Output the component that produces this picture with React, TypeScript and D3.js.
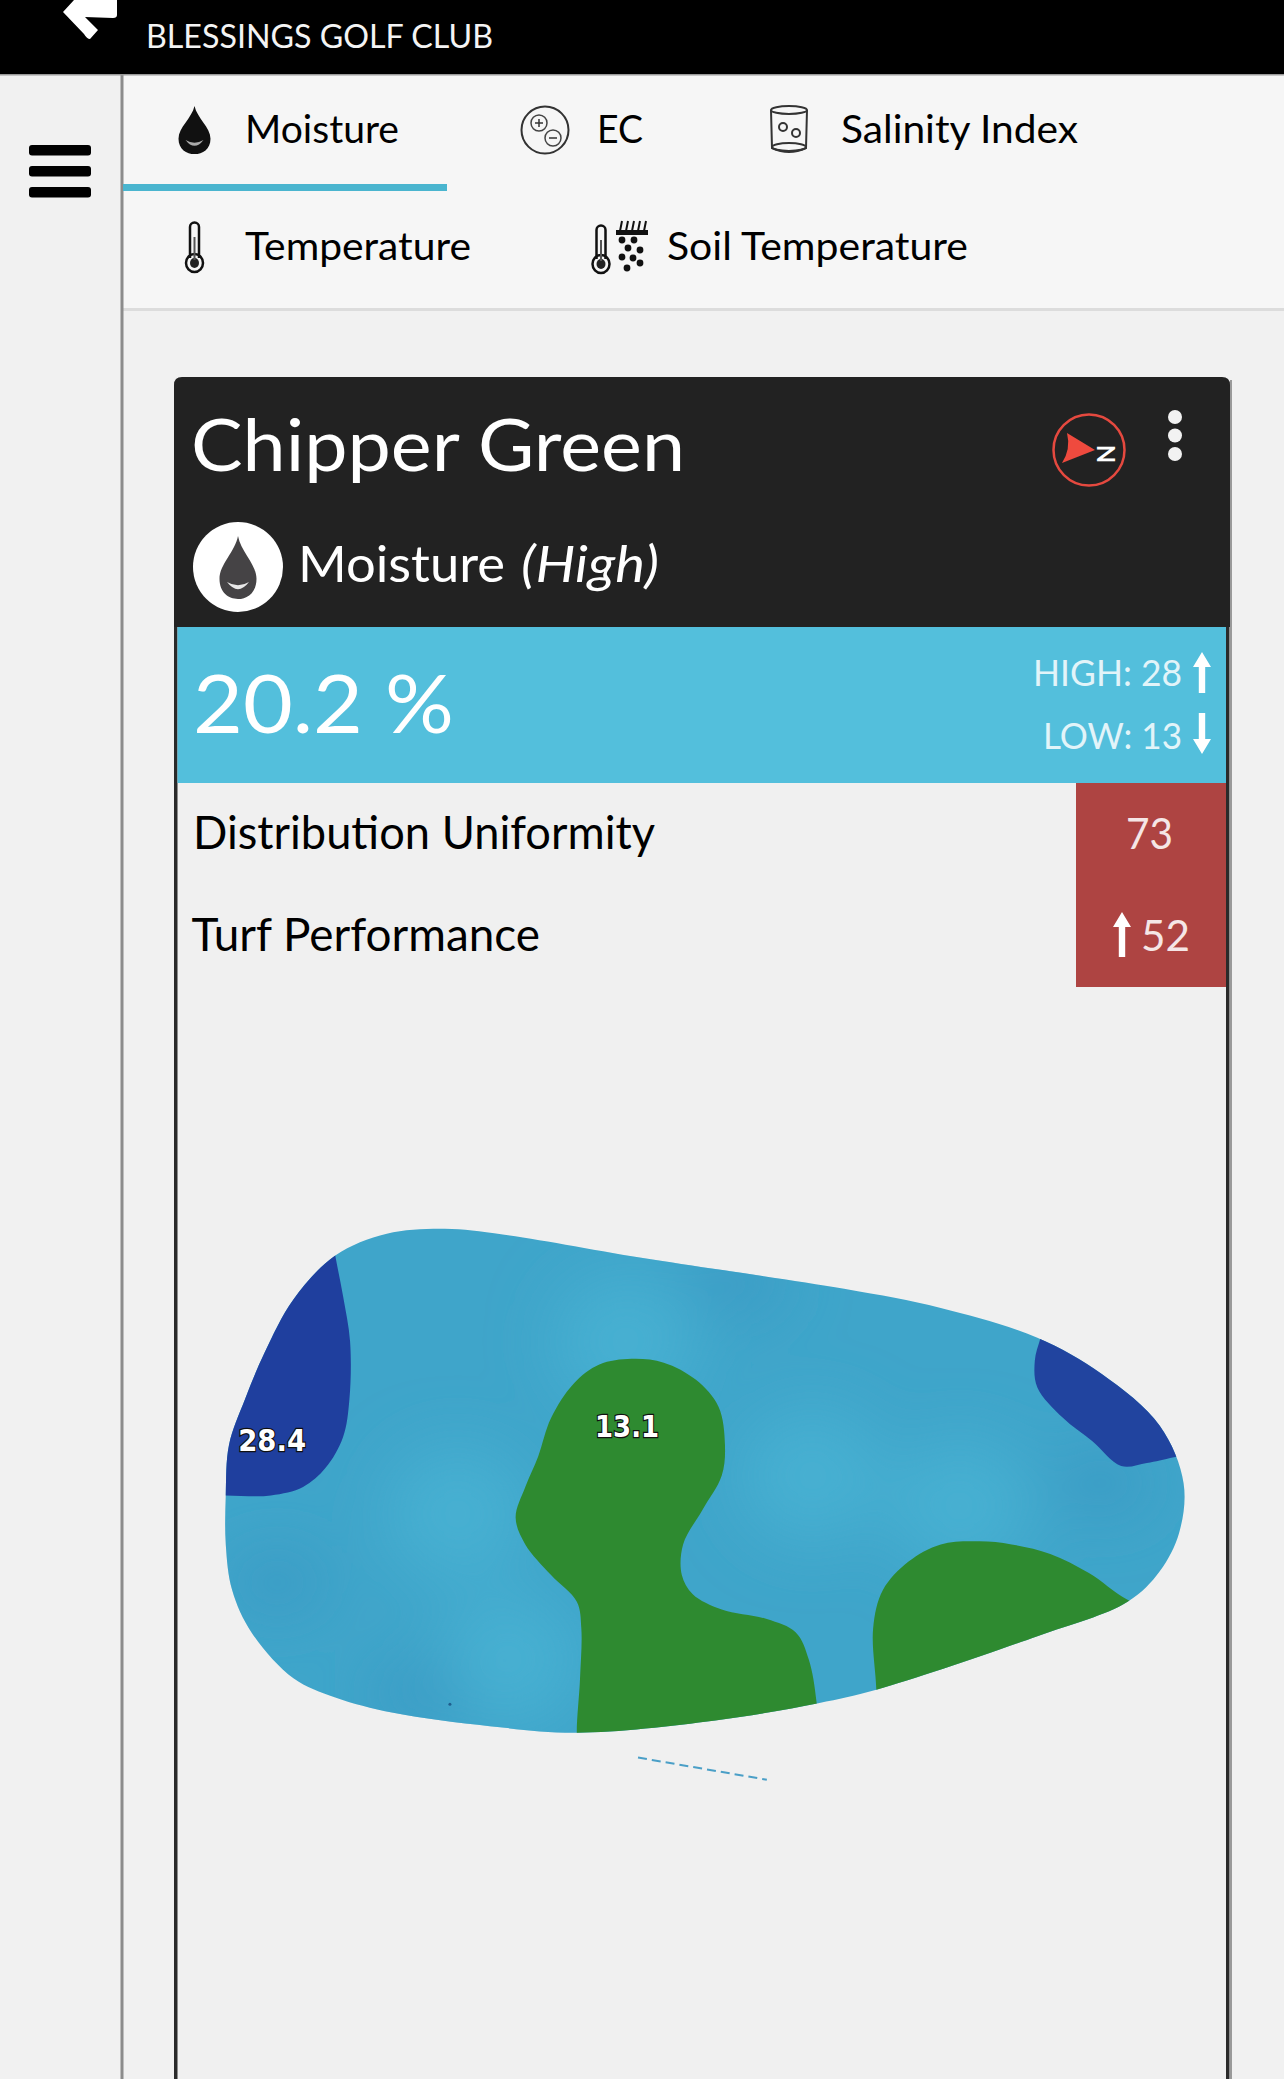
import React from 'react';
import * as d3 from 'd3';

const clubName = 'BLESSINGS GOLF CLUB';
const greenName = 'Chipper Green';
const metricName = 'Moisture';
const metricLevel = '(High)';
const averageLabel = '20.2 %';
const highLabel = 'HIGH: 28';
const lowLabel = 'LOW: 13';
const statNames = ['Distribution Uniformity', 'Turf Performance'];
const statValues = ['73', '52'];
const tabNames = ['Moisture', 'EC', 'Salinity Index', 'Temperature', 'Soil Temperature'];
const peakLabels = ['28.4', '13.1'];

type Pt = [number, number];

// contours, in survey grid units (0-1568 both ways)
const greenOutline: Pt[] = [
  [40, 770], [45, 640], [70, 520], [100, 400], [145, 260], [210, 145], [290, 88], [380, 75], [470, 90],
  [700, 155], [1000, 232], [1150, 282], [1300, 360], [1400, 455], [1490, 590], [1527, 740], [1520, 870],
  [1490, 970], [1440, 1050], [1300, 1140], [1050, 1280], [960, 1315], [800, 1360], [585, 1392], [450, 1375],
  [300, 1340], [210, 1300], [145, 1250], [80, 1130], [50, 1020], [40, 900],
];
const wetLeft: Pt[] = [
  [210, 145], [222, 250], [233, 370], [232, 520], [222, 620], [195, 700], [160, 750], [110, 772], [40, 772],
  [-40, 770], [-60, 400], [200, 40],
];
const wetRight: Pt[] = [
  [1305, 360], [1296, 420], [1300, 490], [1340, 570], [1385, 630], [1430, 695], [1470, 687], [1512, 672],
  [1600, 640], [1560, 420], [1320, 280],
];
const dryCentre: Pt[] = [
  [670, 415], [620, 430], [580, 480], [545, 570], [525, 670], [505, 750], [490, 830], [505, 900], [545, 980],
  [585, 1050], [592, 1120], [590, 1250], [585, 1400], [590, 1480], [960, 1450], [957, 1310], [945, 1200],
  [925, 1130], [880, 1095], [810, 1070], [765, 1030], [748, 980], [750, 900], [780, 810], [810, 720],
  [815, 640], [805, 540], [770, 470], [720, 425],
];
const dryRight: Pt[] = [
  [1210, 892], [1150, 900], [1100, 945], [1060, 1020], [1045, 1120], [1050, 1280], [1050, 1380], [1300, 1300],
  [1520, 1100], [1440, 1045], [1380, 975], [1320, 925], [1260, 900],
];
const paleSpots: Pt[] = [[400, 820], [660, 370], [950, 720], [1180, 800], [480, 1200]];
const darkSpots: Pt[] = [[830, 215], [1400, 740], [340, 1290], [120, 1000]];
const speck: Pt = [388, 1318];
const sensorTrace: Pt[] = [[680, 1457], [880, 1515]];
const peakSpots: Pt[] = [[112, 655], [663, 620]];

const x = d3.scaleLinear().domain([0, 1568]).range([200, 1210]);
const y = d3.scaleLinear().domain([0, 1568]).range([1200, 1800]);

const closed = d3.line<Pt>().x(d => x(d[0])).y(d => y(d[1])).curve(d3.curveCatmullRomClosed.alpha(0.5));
const straight = d3.line<Pt>().x(d => x(d[0])).y(d => y(d[1]));

const FONT = 'Lato, "Open Sans", sans-serif';

const Txt = ({ x0, x1, base, size, fill = '#000', italic, children }: any) => (
  <text
    x={x0 - 2}
    y={base + 1}
    fontFamily={FONT}
    fontSize={size}
    fill={fill}
    fontStyle={italic ? 'italic' : 'normal'}
    textLength={x1 - x0 + 2}
    lengthAdjust="spacingAndGlyphs"
  >
    {children}
  </text>
);

const dropPath = (cx: number, top: number, w: number, h: number) =>
  `M${cx},${top} C${cx + w * 0.08},${top + h * 0.25} ${cx + w / 2},${top + h * 0.45} ${cx + w / 2},${top + h * 0.68}` +
  ` C${cx + w / 2},${top + h * 0.9} ${cx + w * 0.25},${top + h} ${cx},${top + h}` +
  ` C${cx - w * 0.25},${top + h} ${cx - w / 2},${top + h * 0.9} ${cx - w / 2},${top + h * 0.68}` +
  ` C${cx - w / 2},${top + h * 0.45} ${cx - w * 0.08},${top + h * 0.25} ${cx},${top} Z`;

const smile = (cx: number, yy: number, r: number) =>
  `M${cx - r},${yy} Q${cx},${yy + r * 1.3} ${cx + r},${yy} Q${cx},${yy + r * 0.6} ${cx - r},${yy} Z`;

const Arrow = ({ cx, y0, y1, up, fill = '#fff' }: any) => {
  const tip = up ? y0 : y1;
  const dir = up ? 1 : -1;
  const end = up ? y1 : y0;
  return (
    <path
      d={`M${cx},${tip} L${cx + 9},${tip + dir * 15} L${cx + 3.2},${tip + dir * 15} L${cx + 3.2},${end} L${cx - 3.2},${end} L${cx - 3.2},${tip + dir * 15} L${cx - 9},${tip + dir * 15} Z`}
      fill={fill}
    />
  );
};

const Thermo = ({ cx, top, bottom }: any) => (
  <g fill="none" stroke="#111" strokeWidth={2.5}>
    <path d={`M${cx - 4.5},${bottom - 14} L${cx - 4.5},${top + 4} A4.5,4.5 0 0 1 ${cx + 4.5},${top + 4} L${cx + 4.5},${bottom - 14}`} />
    <ellipse cx={cx} cy={bottom - 9} rx={8.5} ry={9} />
    <ellipse cx={cx} cy={bottom - 9} rx={4.5} ry={5} fill="#222" stroke="none" />
    <line x1={cx} x2={cx} y1={top + 14} y2={bottom - 12} strokeWidth={2} stroke="#555" />
  </g>
);

const soilDots: Pt[] = [[622, 240], [634, 240], [628, 248], [640, 250], [622, 257], [633, 258], [640, 263], [627, 268]];

export default function App() {
  return (
    <svg
      width={1284}
      height={2079}
      viewBox="0 0 1284 2079"
      style={{ position: 'absolute', left: 0, top: 0, display: 'block' }}
    >
      <defs>
        <clipPath id="green-clip">
          <path d={closed(greenOutline) || ''} />
        </clipPath>
        <filter id="soft" x="-100%" y="-100%" width="300%" height="300%">
          <feGaussianBlur stdDeviation="32" />
        </filter>
      </defs>

      {/* page */}
      <rect width={1284} height={2079} fill="#f1f1f1" />
      <rect x={123} y={75} width={1161} height={234} fill="#f6f6f6" />
      <rect x={123} y={308} width={1161} height={3} fill="#dcdcdc" />
      <rect x={120.5} y={75} width={3} height={2004} fill="#8c8c8c" />

      {/* top bar */}
      <rect width={1284} height={74} fill="#000" />
      <rect y={74} width={1284} height={1.5} fill="#9a9a9a" />
      <path d="M63,12 L74,0 L117,0 L117,15 Q117,18 113,18 L85,17 L98,30 L90,39 Q87,39 84,34 Z" fill="#fff" />
      <Txt x0={148} x1={493} base={47} size={33} fill="#f4f4f4">{clubName}</Txt>

      {/* hamburger */}
      {[145, 166, 187].map(v => (
        <rect key={v} x={29} y={v} width={62} height={10.5} rx={3} fill="#000" />
      ))}

      {/* tabs */}
      <rect x={123} y={184} width={324} height={7} fill="#4ab5cf" />
      <Txt x0={247} x1={399} base={142} size={39}>{tabNames[0]}</Txt>
      <Txt x0={599} x1={643} base={142} size={39}>{tabNames[1]}</Txt>
      <Txt x0={843} x1={1078} base={142} size={39}>{tabNames[2]}</Txt>
      <Txt x0={247} x1={471} base={259} size={39}>{tabNames[3]}</Txt>
      <Txt x0={669} x1={968} base={259} size={39}>{tabNames[4]}</Txt>

      <path d={dropPath(194.5, 106, 32, 48)} fill="#111" />
      <path d={smile(194.5, 140, 9)} fill="#aaa" />

      <circle cx={545} cy={130} r={23.5} fill="none" stroke="#333" strokeWidth={2} />
      <circle cx={539} cy={123} r={8} fill="none" stroke="#444" strokeWidth={1.5} />
      <circle cx={553} cy={138} r={8} fill="none" stroke="#444" strokeWidth={1.5} />
      <path d="M535,123 h8 M539,119 v8 M549,138 h8" stroke="#333" strokeWidth={1.5} />

      <g fill="none" stroke="#333" strokeWidth={2}>
        <ellipse cx={789} cy={110} rx={18} ry={4} />
        <path d="M771,110 L772,148 Q789,156 806,148 L807,110" />
        <ellipse cx={789} cy={147} rx={17} ry={4} />
        <circle cx={783} cy={127} r={4} />
        <circle cx={796} cy={133} r={4} />
      </g>

      <Thermo cx={194.5} top={223} bottom={272} />
      <Thermo cx={601} top={226} bottom={273} />
      <path d="M617,234 h30 v-3 h-30 Z M620,231 l2,-10 M626,231 l2,-10 M632,231 l2,-10 M638,231 l2,-10 M644,231 l2,-10" stroke="#111" strokeWidth={2} fill="#111" />
      {soilDots.map((d, i) => (
        <circle key={i} cx={d[0]} cy={d[1]} r={3.4} fill="#111" />
      ))}

      {/* card */}
      <rect x={1228} y={380} width={4} height={1699} fill="#9a9a9a" />
      <rect x={174} y={377} width={1056} height={1702} fill="#f0f0f0" />
      <path d="M174,627 L174,385 Q174,377 182,377 L1222,377 Q1230,377 1230,385 L1230,627 Z" fill="#222" />
      <rect x={174} y={627} width={3.5} height={1452} fill="#2a2a2a" />
      <rect x={1226} y={627} width={3.5} height={1452} fill="#2a2a2a" />

      <Txt x0={193} x1={685} base={470} size={72} fill="#fff">{greenName}</Txt>

      {/* compass */}
      <circle cx={1089} cy={450} r={35.5} fill="none" stroke="#e5493f" strokeWidth={2.5} />
      <path d="M1067,433 L1095,450 L1062,463 Q1071,449 1067,433 Z" fill="#ef4a3e" />
      <text x={1105} y={454} transform="rotate(90 1105 454)" textAnchor="middle" fontFamily={FONT} fontWeight={700} fontSize={24} fill="#fff" dy={8}>N</text>

      {[417, 435.5, 454].map(v => (
        <circle key={v} cx={1175} cy={v} r={7} fill="#f2f2f2" />
      ))}

      <circle cx={238} cy={567} r={45} fill="#fff" />
      <path d={dropPath(238, 536, 37, 63)} fill="#454345" />
      <path d={smile(238, 582, 11)} fill="#e8e8e8" />
      <Txt x0={300} x1={505} base={581} size={51} fill="#fff">{metricName}</Txt>
      <Txt x0={523} x1={659} base={581} size={51} fill="#fff" italic>{metricLevel}</Txt>

      {/* average band */}
      <rect x={177.5} y={627} width={1048.5} height={156} fill="#53bfdc" />
      <Txt x0={195} x1={454} base={732} size={82} fill="#fff">{averageLabel}</Txt>
      <Txt x0={1035} x1={1182} base={685} size={37} fill="#e2f4f9">{highLabel}</Txt>
      <Txt x0={1045} x1={1182} base={748} size={37} fill="#e2f4f9">{lowLabel}</Txt>
      <Arrow cx={1202} y0={652} y1={693} up />
      <Arrow cx={1202} y0={713} y1={754} />

      {/* stats */}
      <rect x={1076} y={783} width={150} height={204} fill="#ae4442" />
      <Txt x0={195} x1={655} base={848} size={46}>{statNames[0]}</Txt>
      <Txt x0={193.5} x1={540} base={950} size={46}>{statNames[1]}</Txt>
      <Txt x0={1128} x1={1173} base={848} size={42} fill="#f5e6e6">{statValues[0]}</Txt>
      <Txt x0={1143} x1={1190} base={950} size={42} fill="#f5e6e6">{statValues[1]}</Txt>
      <Arrow cx={1122} y0={912} y1={957} up />

      {/* moisture map */}
      <path d={closed(greenOutline) || ''} fill="#3fa5ca" />
      <g clipPath="url(#green-clip)">
        <g filter="url(#soft)">
          {paleSpots.map((d, i) => (
            <ellipse key={i} cx={x(d[0])} cy={y(d[1])} rx={70} ry={65} fill="#46b0d2" />
          ))}
          {darkSpots.map((d, i) => (
            <ellipse key={i} cx={x(d[0])} cy={y(d[1])} rx={50} ry={28} fill="#3a9ac4" />
          ))}
        </g>
        <circle cx={x(speck[0])} cy={y(speck[1])} r={1.5} fill="#1f5f8e" />
        <path d={closed(wetLeft) || ''} fill="#1f3f9e" />
        <path d={closed(wetRight) || ''} fill="#21449f" />
        <path d={closed(dryCentre) || ''} fill="#2e8a30" />
        <path d={closed(dryRight) || ''} fill="#2e8a30" />
      </g>
      <path d={straight(sensorTrace) || ''} fill="none" stroke="#4a9fc7" strokeWidth={2} strokeDasharray="9 5" />

      {peakLabels.map((t, i) => (
        <text
          key={t}
          x={x(peakSpots[i][0])}
          y={y(peakSpots[i][1])}
          textAnchor="middle"
          fontFamily='"DejaVu Sans", sans-serif'
          fontWeight={700}
          fontSize={31}
          fill="#fff"
          stroke="#111"
          strokeWidth={2.5}
          paintOrder="stroke"
          textLength={t === '28.4' ? 68 : 64}
          lengthAdjust="spacingAndGlyphs"
        >
          {t}
        </text>
      ))}
    </svg>
  );
}
